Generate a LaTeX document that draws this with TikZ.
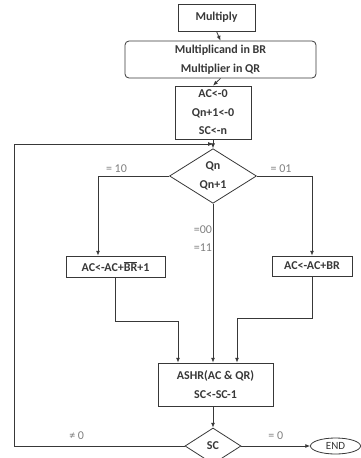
\documentclass[tikz,border=0pt]{standalone}
\usepackage{fontspec}
\setmainfont{Carlito}
\usetikzlibrary{arrows.meta,shapes.geometric}
\definecolor{linegray}{gray}{0.22}

\begin{document}
\begin{tikzpicture}[
        x=1pt, y=-1pt,
        font=\fontsize{12}{18.5}\selectfont\bfseries,
        line width=0.8pt,
        draw=linegray,
        text=linegray,
        stepbox/.style={
            draw=linegray,
            align=center,
            inner sep=1pt
        },
        decision/.style={
            draw=linegray,
            diamond,
            aspect=1,
            align=center,
            inner sep=0pt
        },
        condlabel/.style={
            font=\fontsize{12}{12}\selectfont,
            text=gray
        },
        arrow/.style={
            -{Latex[length=1.7mm,width=1.4mm]},
            draw=linegray,
            line width=0.8pt
        }
    ]

        \useasboundingbox (0,0) rectangle (361,458);

        % Start and loading
        \node[stepbox, minimum width=77pt, minimum height=27pt] (multiply) at (216.5,17.5)
            {Multiply};
        \node[stepbox, rounded corners=4pt, minimum width=191pt, minimum height=37pt] (load) at (220.5,59.5)
            {Multiplicand in BR\\Multiplier in QR};
        \node[stepbox, minimum width=76pt, minimum height=53pt] (init) at (213,112.5)
            {AC<-0\\Qn+1<-0\\SC<-n};

        % Test of the two bits
        \coordinate (join) at (213,144);
        \node[decision, minimum width=87pt, minimum height=54pt] (qn) at (213,176)
            {Qn\\Qn+1};

        \node[stepbox, minimum width=99pt, minimum height=21pt] (addneg) at (115.5,266.5)
            {AC<-AC+$\overline{\hbox{BR}}$+1};
        \node[stepbox, minimum width=80pt, minimum height=20pt] (add) at (312,266)
            {AC<-AC+BR};

        % Shift and count
        \node[stepbox, minimum width=115pt, minimum height=43pt] (shift) at (215.5,384.5)
            {ASHR(AC \& QR)\\SC<-SC-1};
        \node[decision, minimum width=56pt, minimum height=36pt] (sc) at (213,446)
            {SC};
        \node[draw=linegray, ellipse, minimum width=50pt, minimum height=16pt, inner sep=0pt,
              font=\fontsize{11}{12}\selectfont] (stop) at (335.5,446)
            {END};

        % Main flow
        \draw[arrow] (multiply.south) -- (load.north);
        \draw[arrow] (load.south) -- (init.north);
        \draw[arrow] (init.south) -- (qn.north);

        \draw[arrow]
            (qn.west) -| node[condlabel, pos=0.37, above]{= 10}
            ([xshift=-17.5pt]addneg.north);
        \draw[arrow]
            (qn.east) -| node[condlabel, pos=0.22, above]{= 01}
            (add.north);
        \draw[arrow]
            (qn.south) -- (qn.south |- shift.north);
        \node[condlabel, align=left, font=\fontsize{12}{18}\selectfont] (same) at (203,239) {=00\\=11};

        \draw[arrow]
            (addneg.south) -- ++(0,43.5) -| ([xshift=-37.5pt]shift.north);
        \draw[arrow]
            (add.south) -- ++(0,42) -| ([xshift=21.5pt]shift.north);

        \draw[arrow] (sc.north |- shift.south) -- (sc.north);

        % Loop back and exit
        \draw[arrow]
            (sc.west) -- node[condlabel, pos=0.635, above=3pt]{≠ 0}
            ++(-170,0) |- (join);
        \draw[arrow]
            (sc.east) -- node[condlabel, pos=0.5, above=3pt]{= 0}
            (stop.west);

    \end{tikzpicture}
\end{document}
